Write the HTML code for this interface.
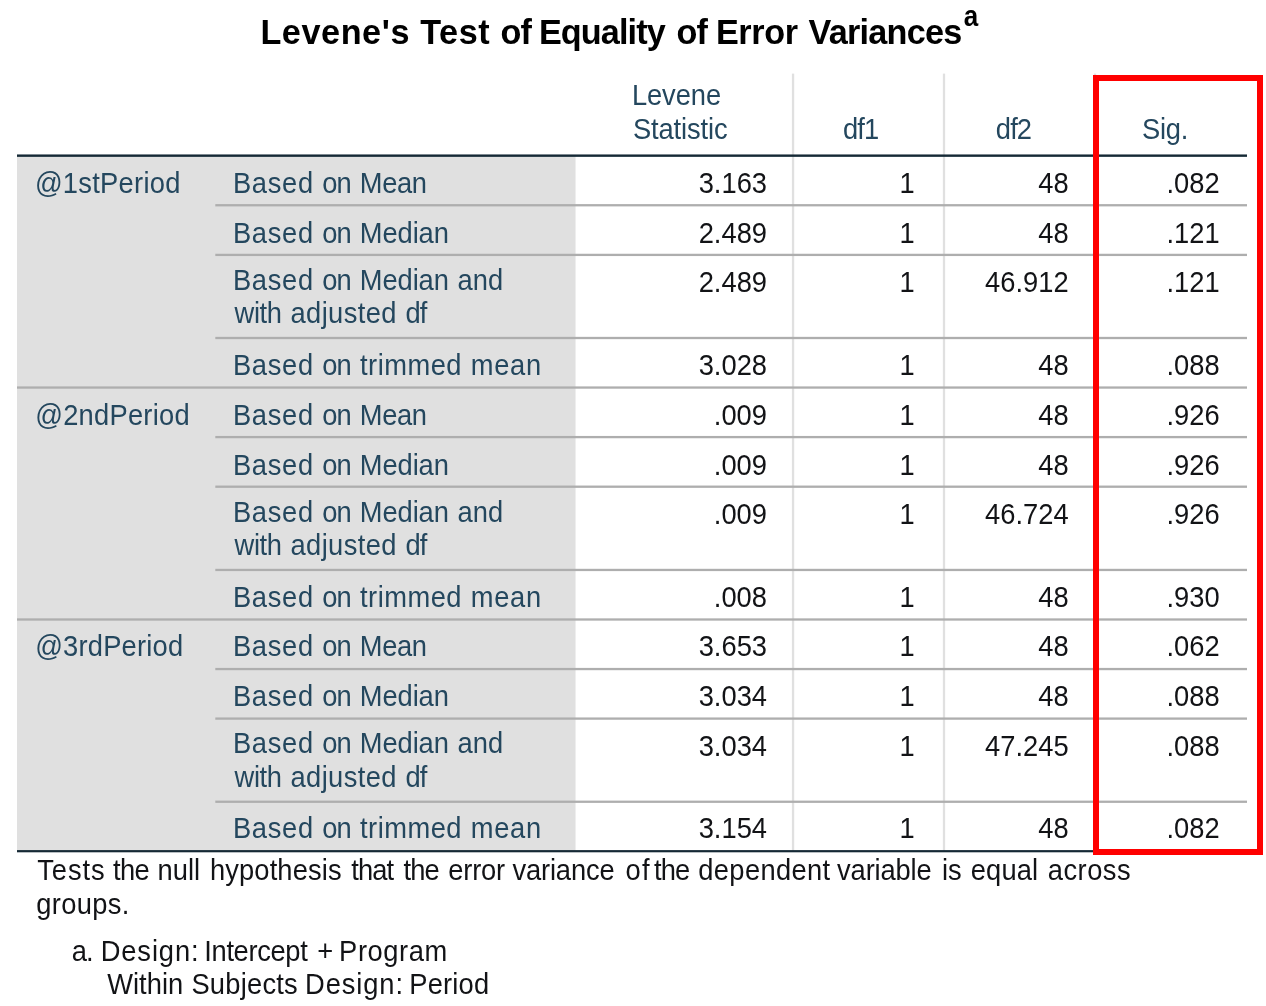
<!DOCTYPE html>
<html><head><meta charset="utf-8"><title>Levene's Test of Equality of Error Variances</title>
<style>
html,body{margin:0;padding:0;background:#fff;}
body{width:1266px;height:1006px;position:relative;overflow:hidden;font-family:"Liberation Sans",Arial,sans-serif;font-size:27.3px;line-height:34px;color:#121316;}
.a{position:absolute;white-space:pre;}
.w{position:absolute;top:0;white-space:pre;}
.n{text-align:right;}
</style></head><body>

<svg class="a" style="left:0;top:0" width="1266" height="1006" viewBox="0 0 1266 1006"><rect x="17" y="155.65" width="558.55" height="695.55" fill="#e0e0e0"/><rect x="791.90" y="73.6" width="2.30" height="777.60" fill="#e0e0e0"/><rect x="942.85" y="73.6" width="2.30" height="777.60" fill="#e0e0e0"/><rect x="1093.85" y="73.6" width="2.30" height="777.60" fill="#e0e0e0"/><rect x="17" y="154.45" width="1230" height="2.40" fill="#152935"/><rect x="215.30" y="204.10" width="1031.70" height="2.30" fill="#aeaeae"/><rect x="215.30" y="253.75" width="1031.70" height="2.30" fill="#aeaeae"/><rect x="215.30" y="336.85" width="1031.70" height="2.30" fill="#aeaeae"/><rect x="17.00" y="386.40" width="1230.00" height="2.30" fill="#aeaeae"/><rect x="215.30" y="435.95" width="1031.70" height="2.30" fill="#aeaeae"/><rect x="215.30" y="485.55" width="1031.70" height="2.30" fill="#aeaeae"/><rect x="215.30" y="568.80" width="1031.70" height="2.30" fill="#aeaeae"/><rect x="17.00" y="618.35" width="1230.00" height="2.30" fill="#aeaeae"/><rect x="215.30" y="667.90" width="1031.70" height="2.30" fill="#aeaeae"/><rect x="215.30" y="717.45" width="1031.70" height="2.30" fill="#aeaeae"/><rect x="215.30" y="800.60" width="1031.70" height="2.30" fill="#aeaeae"/><rect x="17" y="850.10" width="1230" height="2.20" fill="#152935"/></svg>
<div class="a" id="title" style="left:0;top:10.95px;width:1266px;height:43px;line-height:43px;font-size:34.2px;color:#000;font-weight:bold;"><span class="w" style="left:260.40px;letter-spacing:0.579px">Levene's </span><span class="w" style="left:420.20px;letter-spacing:0.576px">Test </span><span class="w" style="left:500.56px;letter-spacing:-0.900px">of </span><span class="w" style="left:538.97px;letter-spacing:-0.900px">Equality </span><span class="w" style="left:676.56px;letter-spacing:-0.900px">of </span><span class="w" style="left:715.90px;letter-spacing:-0.374px">Error </span><span class="w" style="left:808.60px;letter-spacing:-0.757px">Variances</span></div>
<div class="a" id="sup" style="left:0;top:0.99px;width:1266px;height:32px;line-height:32px;font-size:26px;color:#000;font-weight:bold;transform:scaleY(1.1);transform-origin:0 25.01px"><span class="w" style="left:963.70px;letter-spacing:0.000px">a</span></div>
<div class="a" id="h1a" style="left:0;top:79.04px;width:1266px;height:34px;line-height:34px;font-size:27.3px;color:#24475e;transform:scaleY(1.05);transform-origin:0 26.46px"><span class="w" style="left:631.90px;letter-spacing:-0.075px">Levene</span></div>
<div class="a" id="h1b" style="left:0;top:113.04px;width:1266px;height:34px;line-height:34px;font-size:27.3px;color:#24475e;transform:scaleY(1.05);transform-origin:0 26.46px"><span class="w" style="left:632.90px;letter-spacing:-0.115px">Statistic</span></div>
<div class="a" id="h2" style="left:0;top:112.74px;width:1266px;height:34px;line-height:34px;font-size:27.3px;color:#24475e;transform:scaleY(1.05);transform-origin:0 26.46px"><span class="w" style="left:843.02px;letter-spacing:-0.900px">df1</span></div>
<div class="a" id="h3" style="left:0;top:112.74px;width:1266px;height:34px;line-height:34px;font-size:27.3px;color:#24475e;transform:scaleY(1.05);transform-origin:0 26.46px"><span class="w" style="left:995.87px;letter-spacing:-0.900px">df2</span></div>
<div class="a" id="h4" style="left:0;top:112.74px;width:1266px;height:34px;line-height:34px;font-size:27.3px;color:#24475e;transform:scaleY(1.05);transform-origin:0 26.46px"><span class="w" style="left:1142.10px;letter-spacing:-0.251px">Sig.</span></div>
<div class="a" id="g0" style="left:0;top:166.84px;width:1266px;height:34px;line-height:34px;font-size:27.3px;color:#24475e;transform:scaleY(1.05);transform-origin:0 26.46px"><span class="w" style="left:34.90px;letter-spacing:0.272px">@1stPeriod</span></div>
<div class="a" id="l0" style="left:0;top:166.84px;width:1266px;height:34px;line-height:34px;font-size:27.3px;color:#24475e;transform:scaleY(1.05);transform-origin:0 26.46px"><span class="w" style="left:232.90px;letter-spacing:0.696px">Based </span><span class="w" style="left:322.21px;letter-spacing:-0.900px">on </span><span class="w" style="left:359.80px;letter-spacing:-0.400px">Mean</span></div>
<div class="a n" id="d0_0" style="right:499.0px;top:166.84px;transform:scaleY(1.05);transform-origin:0 26.46px">3.163</div>
<div class="a n" id="d0_1" style="right:351.4px;top:166.84px;transform:scaleY(1.05);transform-origin:0 26.46px">1</div>
<div class="a n" id="d0_2" style="right:197.4px;top:166.84px;transform:scaleY(1.05);transform-origin:0 26.46px">48</div>
<div class="a n" id="d0_3" style="right:46.4px;top:166.84px;transform:scaleY(1.05);transform-origin:0 26.46px">.082</div>
<div class="a" id="l1" style="left:0;top:216.54px;width:1266px;height:34px;line-height:34px;font-size:27.3px;color:#24475e;transform:scaleY(1.05);transform-origin:0 26.46px"><span class="w" style="left:232.90px;letter-spacing:0.696px">Based </span><span class="w" style="left:322.21px;letter-spacing:-0.900px">on </span><span class="w" style="left:359.80px;letter-spacing:-0.089px">Median</span></div>
<div class="a n" id="d1_0" style="right:499.0px;top:216.54px;transform:scaleY(1.05);transform-origin:0 26.46px">2.489</div>
<div class="a n" id="d1_1" style="right:351.4px;top:216.54px;transform:scaleY(1.05);transform-origin:0 26.46px">1</div>
<div class="a n" id="d1_2" style="right:197.4px;top:216.54px;transform:scaleY(1.05);transform-origin:0 26.46px">48</div>
<div class="a n" id="d1_3" style="right:46.4px;top:216.54px;transform:scaleY(1.05);transform-origin:0 26.46px">.121</div>
<div class="a" id="l2a" style="left:0;top:263.54px;width:1266px;height:34px;line-height:34px;font-size:27.3px;color:#24475e;transform:scaleY(1.05);transform-origin:0 26.46px"><span class="w" style="left:232.90px;letter-spacing:0.696px">Based </span><span class="w" style="left:322.21px;letter-spacing:-0.900px">on </span><span class="w" style="left:359.80px;letter-spacing:-0.089px">Median </span><span class="w" style="left:457.40px;letter-spacing:0.119px">and</span></div>
<div class="a" id="l2b" style="left:0;top:297.04px;width:1266px;height:34px;line-height:34px;font-size:27.3px;color:#24475e;transform:scaleY(1.05);transform-origin:0 26.46px"><span class="w" style="left:234.60px;letter-spacing:-0.387px">with </span><span class="w" style="left:290.50px;letter-spacing:0.397px">adjusted </span><span class="w" style="left:405.46px;letter-spacing:-0.900px">df</span></div>
<div class="a n" id="d2_0" style="right:499.0px;top:265.74px;transform:scaleY(1.05);transform-origin:0 26.46px">2.489</div>
<div class="a n" id="d2_1" style="right:351.4px;top:265.74px;transform:scaleY(1.05);transform-origin:0 26.46px">1</div>
<div class="a n" id="d2_2" style="right:197.4px;top:265.74px;transform:scaleY(1.05);transform-origin:0 26.46px">46.912</div>
<div class="a n" id="d2_3" style="right:46.4px;top:265.74px;transform:scaleY(1.05);transform-origin:0 26.46px">.121</div>
<div class="a" id="l3" style="left:0;top:349.04px;width:1266px;height:34px;line-height:34px;font-size:27.3px;color:#24475e;transform:scaleY(1.05);transform-origin:0 26.46px"><span class="w" style="left:232.90px;letter-spacing:0.696px">Based </span><span class="w" style="left:322.21px;letter-spacing:-0.900px">on </span><span class="w" style="left:360.00px;letter-spacing:0.484px">trimmed </span><span class="w" style="left:470.80px;letter-spacing:0.666px">mean</span></div>
<div class="a n" id="d3_0" style="right:499.0px;top:349.04px;transform:scaleY(1.05);transform-origin:0 26.46px">3.028</div>
<div class="a n" id="d3_1" style="right:351.4px;top:349.04px;transform:scaleY(1.05);transform-origin:0 26.46px">1</div>
<div class="a n" id="d3_2" style="right:197.4px;top:349.04px;transform:scaleY(1.05);transform-origin:0 26.46px">48</div>
<div class="a n" id="d3_3" style="right:46.4px;top:349.04px;transform:scaleY(1.05);transform-origin:0 26.46px">.088</div>
<div class="a" id="g1" style="left:0;top:398.84px;width:1266px;height:34px;line-height:34px;font-size:27.3px;color:#24475e;transform:scaleY(1.05);transform-origin:0 26.46px"><span class="w" style="left:35.20px;letter-spacing:0.247px">@2ndPeriod</span></div>
<div class="a" id="l4" style="left:0;top:398.84px;width:1266px;height:34px;line-height:34px;font-size:27.3px;color:#24475e;transform:scaleY(1.05);transform-origin:0 26.46px"><span class="w" style="left:232.90px;letter-spacing:0.696px">Based </span><span class="w" style="left:322.21px;letter-spacing:-0.900px">on </span><span class="w" style="left:359.80px;letter-spacing:-0.400px">Mean</span></div>
<div class="a n" id="d4_0" style="right:499.0px;top:398.84px;transform:scaleY(1.05);transform-origin:0 26.46px">.009</div>
<div class="a n" id="d4_1" style="right:351.4px;top:398.84px;transform:scaleY(1.05);transform-origin:0 26.46px">1</div>
<div class="a n" id="d4_2" style="right:197.4px;top:398.84px;transform:scaleY(1.05);transform-origin:0 26.46px">48</div>
<div class="a n" id="d4_3" style="right:46.4px;top:398.84px;transform:scaleY(1.05);transform-origin:0 26.46px">.926</div>
<div class="a" id="l5" style="left:0;top:448.54px;width:1266px;height:34px;line-height:34px;font-size:27.3px;color:#24475e;transform:scaleY(1.05);transform-origin:0 26.46px"><span class="w" style="left:232.90px;letter-spacing:0.696px">Based </span><span class="w" style="left:322.21px;letter-spacing:-0.900px">on </span><span class="w" style="left:359.80px;letter-spacing:-0.089px">Median</span></div>
<div class="a n" id="d5_0" style="right:499.0px;top:448.54px;transform:scaleY(1.05);transform-origin:0 26.46px">.009</div>
<div class="a n" id="d5_1" style="right:351.4px;top:448.54px;transform:scaleY(1.05);transform-origin:0 26.46px">1</div>
<div class="a n" id="d5_2" style="right:197.4px;top:448.54px;transform:scaleY(1.05);transform-origin:0 26.46px">48</div>
<div class="a n" id="d5_3" style="right:46.4px;top:448.54px;transform:scaleY(1.05);transform-origin:0 26.46px">.926</div>
<div class="a" id="l6a" style="left:0;top:495.54px;width:1266px;height:34px;line-height:34px;font-size:27.3px;color:#24475e;transform:scaleY(1.05);transform-origin:0 26.46px"><span class="w" style="left:232.90px;letter-spacing:0.696px">Based </span><span class="w" style="left:322.21px;letter-spacing:-0.900px">on </span><span class="w" style="left:359.80px;letter-spacing:-0.089px">Median </span><span class="w" style="left:457.40px;letter-spacing:0.119px">and</span></div>
<div class="a" id="l6b" style="left:0;top:529.04px;width:1266px;height:34px;line-height:34px;font-size:27.3px;color:#24475e;transform:scaleY(1.05);transform-origin:0 26.46px"><span class="w" style="left:234.60px;letter-spacing:-0.387px">with </span><span class="w" style="left:290.50px;letter-spacing:0.397px">adjusted </span><span class="w" style="left:405.46px;letter-spacing:-0.900px">df</span></div>
<div class="a n" id="d6_0" style="right:499.0px;top:497.74px;transform:scaleY(1.05);transform-origin:0 26.46px">.009</div>
<div class="a n" id="d6_1" style="right:351.4px;top:497.74px;transform:scaleY(1.05);transform-origin:0 26.46px">1</div>
<div class="a n" id="d6_2" style="right:197.4px;top:497.74px;transform:scaleY(1.05);transform-origin:0 26.46px">46.724</div>
<div class="a n" id="d6_3" style="right:46.4px;top:497.74px;transform:scaleY(1.05);transform-origin:0 26.46px">.926</div>
<div class="a" id="l7" style="left:0;top:580.74px;width:1266px;height:34px;line-height:34px;font-size:27.3px;color:#24475e;transform:scaleY(1.05);transform-origin:0 26.46px"><span class="w" style="left:232.90px;letter-spacing:0.696px">Based </span><span class="w" style="left:322.21px;letter-spacing:-0.900px">on </span><span class="w" style="left:360.00px;letter-spacing:0.484px">trimmed </span><span class="w" style="left:470.80px;letter-spacing:0.666px">mean</span></div>
<div class="a n" id="d7_0" style="right:499.0px;top:580.74px;transform:scaleY(1.05);transform-origin:0 26.46px">.008</div>
<div class="a n" id="d7_1" style="right:351.4px;top:580.74px;transform:scaleY(1.05);transform-origin:0 26.46px">1</div>
<div class="a n" id="d7_2" style="right:197.4px;top:580.74px;transform:scaleY(1.05);transform-origin:0 26.46px">48</div>
<div class="a n" id="d7_3" style="right:46.4px;top:580.74px;transform:scaleY(1.05);transform-origin:0 26.46px">.930</div>
<div class="a" id="g2" style="left:0;top:630.14px;width:1266px;height:34px;line-height:34px;font-size:27.3px;color:#24475e;transform:scaleY(1.05);transform-origin:0 26.46px"><span class="w" style="left:35.20px;letter-spacing:0.202px">@3rdPeriod</span></div>
<div class="a" id="l8" style="left:0;top:630.14px;width:1266px;height:34px;line-height:34px;font-size:27.3px;color:#24475e;transform:scaleY(1.05);transform-origin:0 26.46px"><span class="w" style="left:232.90px;letter-spacing:0.696px">Based </span><span class="w" style="left:322.21px;letter-spacing:-0.900px">on </span><span class="w" style="left:359.80px;letter-spacing:-0.400px">Mean</span></div>
<div class="a n" id="d8_0" style="right:499.0px;top:630.14px;transform:scaleY(1.05);transform-origin:0 26.46px">3.653</div>
<div class="a n" id="d8_1" style="right:351.4px;top:630.14px;transform:scaleY(1.05);transform-origin:0 26.46px">1</div>
<div class="a n" id="d8_2" style="right:197.4px;top:630.14px;transform:scaleY(1.05);transform-origin:0 26.46px">48</div>
<div class="a n" id="d8_3" style="right:46.4px;top:630.14px;transform:scaleY(1.05);transform-origin:0 26.46px">.062</div>
<div class="a" id="l9" style="left:0;top:679.84px;width:1266px;height:34px;line-height:34px;font-size:27.3px;color:#24475e;transform:scaleY(1.05);transform-origin:0 26.46px"><span class="w" style="left:232.90px;letter-spacing:0.696px">Based </span><span class="w" style="left:322.21px;letter-spacing:-0.900px">on </span><span class="w" style="left:359.80px;letter-spacing:-0.089px">Median</span></div>
<div class="a n" id="d9_0" style="right:499.0px;top:679.84px;transform:scaleY(1.05);transform-origin:0 26.46px">3.034</div>
<div class="a n" id="d9_1" style="right:351.4px;top:679.84px;transform:scaleY(1.05);transform-origin:0 26.46px">1</div>
<div class="a n" id="d9_2" style="right:197.4px;top:679.84px;transform:scaleY(1.05);transform-origin:0 26.46px">48</div>
<div class="a n" id="d9_3" style="right:46.4px;top:679.84px;transform:scaleY(1.05);transform-origin:0 26.46px">.088</div>
<div class="a" id="l10a" style="left:0;top:727.34px;width:1266px;height:34px;line-height:34px;font-size:27.3px;color:#24475e;transform:scaleY(1.05);transform-origin:0 26.46px"><span class="w" style="left:232.90px;letter-spacing:0.696px">Based </span><span class="w" style="left:322.21px;letter-spacing:-0.900px">on </span><span class="w" style="left:359.80px;letter-spacing:-0.089px">Median </span><span class="w" style="left:457.40px;letter-spacing:0.119px">and</span></div>
<div class="a" id="l10b" style="left:0;top:760.84px;width:1266px;height:34px;line-height:34px;font-size:27.3px;color:#24475e;transform:scaleY(1.05);transform-origin:0 26.46px"><span class="w" style="left:234.60px;letter-spacing:-0.387px">with </span><span class="w" style="left:290.50px;letter-spacing:0.397px">adjusted </span><span class="w" style="left:405.46px;letter-spacing:-0.900px">df</span></div>
<div class="a n" id="d10_0" style="right:499.0px;top:729.54px;transform:scaleY(1.05);transform-origin:0 26.46px">3.034</div>
<div class="a n" id="d10_1" style="right:351.4px;top:729.54px;transform:scaleY(1.05);transform-origin:0 26.46px">1</div>
<div class="a n" id="d10_2" style="right:197.4px;top:729.54px;transform:scaleY(1.05);transform-origin:0 26.46px">47.245</div>
<div class="a n" id="d10_3" style="right:46.4px;top:729.54px;transform:scaleY(1.05);transform-origin:0 26.46px">.088</div>
<div class="a" id="l11" style="left:0;top:812.24px;width:1266px;height:34px;line-height:34px;font-size:27.3px;color:#24475e;transform:scaleY(1.05);transform-origin:0 26.46px"><span class="w" style="left:232.90px;letter-spacing:0.696px">Based </span><span class="w" style="left:322.21px;letter-spacing:-0.900px">on </span><span class="w" style="left:360.00px;letter-spacing:0.484px">trimmed </span><span class="w" style="left:470.80px;letter-spacing:0.666px">mean</span></div>
<div class="a n" id="d11_0" style="right:499.0px;top:812.24px;transform:scaleY(1.05);transform-origin:0 26.46px">3.154</div>
<div class="a n" id="d11_1" style="right:351.4px;top:812.24px;transform:scaleY(1.05);transform-origin:0 26.46px">1</div>
<div class="a n" id="d11_2" style="right:197.4px;top:812.24px;transform:scaleY(1.05);transform-origin:0 26.46px">48</div>
<div class="a n" id="d11_3" style="right:46.4px;top:812.24px;transform:scaleY(1.05);transform-origin:0 26.46px">.082</div>
<div class="a" id="f1" style="left:0;top:854.04px;width:1266px;height:34px;line-height:34px;font-size:27.3px;color:#121316;transform:scaleY(1.05);transform-origin:0 26.46px"><span class="w" style="left:37.30px;letter-spacing:0.885px">Tests </span><span class="w" style="left:113.10px;letter-spacing:-0.683px">the </span><span class="w" style="left:157.60px;letter-spacing:0.024px">null </span><span class="w" style="left:210.00px;letter-spacing:0.117px">hypothesis </span><span class="w" style="left:351.33px;letter-spacing:-0.900px">that </span><span class="w" style="left:403.52px;letter-spacing:-0.900px">the </span><span class="w" style="left:448.20px;letter-spacing:-0.161px">error </span><span class="w" style="left:512.40px;letter-spacing:-0.128px">variance </span><span class="w" style="left:625.56px;letter-spacing:1.300px">of </span><span class="w" style="left:654.12px;letter-spacing:-0.900px">the </span><span class="w" style="left:698.30px;letter-spacing:0.356px">dependent </span><span class="w" style="left:837.10px;letter-spacing:-0.144px">variable </span><span class="w" style="left:941.90px;letter-spacing:-0.064px">is </span><span class="w" style="left:970.80px;letter-spacing:0.144px">equal </span><span class="w" style="left:1047.80px;letter-spacing:0.470px">across</span></div>
<div class="a" id="f2" style="left:0;top:887.74px;width:1266px;height:34px;line-height:34px;font-size:27.3px;color:#121316;transform:scaleY(1.05);transform-origin:0 26.46px"><span class="w" style="left:36.30px;letter-spacing:0.323px">groups.</span></div>
<div class="a" id="f3" style="left:0;top:934.54px;width:1266px;height:34px;line-height:34px;font-size:27.3px;color:#121316;transform:scaleY(1.05);transform-origin:0 26.46px"><span class="w" style="left:71.81px;letter-spacing:-0.900px">a. </span><span class="w" style="left:100.70px;letter-spacing:0.888px">Design: </span><span class="w" style="left:204.30px;letter-spacing:-0.341px">Intercept </span><span class="w" style="left:317.20px;letter-spacing:0.000px">+ </span><span class="w" style="left:339.10px;letter-spacing:0.578px">Program</span></div>
<div class="a" id="f4" style="left:0;top:968.34px;width:1266px;height:34px;line-height:34px;font-size:27.3px;color:#121316;transform:scaleY(1.05);transform-origin:0 26.46px"><span class="w" style="left:107.20px;letter-spacing:0.028px">Within </span><span class="w" style="left:191.40px;letter-spacing:0.236px">Subjects </span><span class="w" style="left:305.10px;letter-spacing:0.888px">Design: </span><span class="w" style="left:409.30px;letter-spacing:0.175px">Period</span></div>
<div class="a" id="red" style="left:1093px;top:75px;width:158.3px;height:768px;border:6px solid #ff0000"></div>
</body></html>
